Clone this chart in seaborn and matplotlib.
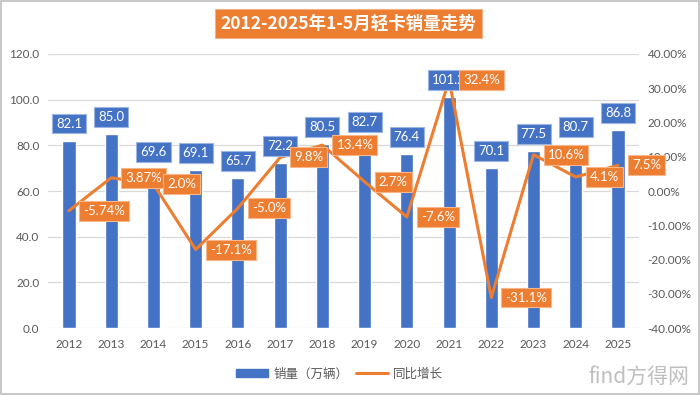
import matplotlib
matplotlib.use("Agg")
import matplotlib.pyplot as plt
import matplotlib.patches as mpatches
from matplotlib.lines import Line2D
from matplotlib.ticker import FuncFormatter, FixedLocator
import numpy as np
import pandas as pd
import seaborn as sns

years = ["2012", "2013", "2014", "2015", "2016", "2017", "2018",
         "2019", "2020", "2021", "2022", "2023", "2024", "2025"]
sales = [82.1, 85.0, 69.6, 69.1, 65.7, 72.2, 80.5, 82.7, 76.4, 101.2, 70.1, 77.5, 80.7, 86.8]
growth = [-5.74, 3.87, 2.0, -17.1, -5.0, 9.8, 13.4, 2.7, -7.6, 32.4, -31.1, 10.6, 4.1, 7.5]
growth_labels = ["-5.74%", "3.87%", "2.0%", "-17.1%", "-5.0%", "9.8%", "13.4%",
                 "2.7%", "-7.6%", "32.4%", "-31.1%", "10.6%", "4.1%", "7.5%"]
sales_labels = ["82.1", "85.0", "69.6", "69.1", "65.7", "72.2", "80.5",
                "82.7", "76.4", "101.2", "70.1", "77.5", "80.7", "86.8"]
title = "2012-2025年1-5月轻卡销量走势"
legend_bar = "销量（万辆）"
legend_line = "同比增长"

BLUE = "#4472C4"
ORANGE = "#ED7D31"
GREY = "#595959"

sns.set_style("white")
plt.rcParams["font.family"] = ["Lato", "Noto Sans CJK SC", "DejaVu Sans"]

df = pd.DataFrame({"year": years, "sales": sales, "growth": growth,
                   "pos": np.arange(len(years))})

fig = plt.figure(figsize=(7, 3.95), dpi=100)
ax = fig.add_axes([0.0684, 0.1696, 0.8446, 0.6937])

sns.barplot(data=df, x="year", y="sales", color=BLUE, saturation=1,
            width=0.31, ax=ax, zorder=2)
ax.set_xlim(-0.5, len(years) - 0.5)
ax.set_ylim(0, 120)
ax.yaxis.set_major_locator(FixedLocator([0, 20, 40, 60, 80, 100, 120]))
ax.yaxis.set_major_formatter(FuncFormatter(lambda v, p: f"{v:.1f}"))
ax.grid(axis="y", color="#D9D9D9", lw=0.9, zorder=0)
ax.set_axisbelow(True)
ax.set_xlabel("")
ax.set_ylabel("")
for s in ax.spines.values():
    s.set_visible(False)
ax.tick_params(axis="both", length=0, labelsize=8.5, labelcolor=GREY)
ax.tick_params(axis="x", pad=8)
ax.tick_params(axis="y", pad=6)

ax2 = ax.twinx()
sns.lineplot(data=df, x="pos", y="growth", color=ORANGE, lw=2.2, ax=ax2,
             zorder=3)
ax2.set_ylim(-40, 40)
ax2.yaxis.set_major_locator(FixedLocator(list(range(-40, 41, 10))))
ax2.yaxis.set_major_formatter(FuncFormatter(lambda v, p: f"{v:.2f}%"))
ax2.set_xlim(-0.5, len(years) - 0.5)
ax2.set_ylabel("")
ax2.set_xlabel("")
for s in ax2.spines.values():
    s.set_visible(False)
ax2.tick_params(axis="y", length=0, labelsize=8.5, labelcolor=GREY, pad=6)

# bar labels
for i, (v, t) in enumerate(zip(sales, sales_labels)):
    ax2.annotate(t, xy=(i, v), xycoords=ax.transData,
                 xytext=(0, 17), textcoords="offset pixels",
                 ha="center", va="center", fontsize=9.5, color="white",
                 bbox=dict(boxstyle="square,pad=0.3", fc=BLUE,
                           ec="#9DB5E3", lw=0.8), zorder=5)
# growth labels
for i, (v, t) in enumerate(zip(growth, growth_labels)):
    ax2.annotate(t, xy=(i, v), xycoords=ax2.transData,
                 xytext=(14, 0), textcoords="offset pixels",
                 ha="left", va="center", fontsize=9.5, color="white",
                 bbox=dict(boxstyle="square,pad=0.3", fc=ORANGE,
                           ec="#F6B68A", lw=0.8), zorder=6)

# title
fig.text(0.498, 0.94, title, ha="center", va="center", fontsize=12.6,
         fontweight="bold", color="white",
         family=["Noto Sans CJK SC", "DejaVu Sans"],
         bbox=dict(boxstyle="square,pad=0.32", fc=ORANGE, ec="#F4B183", lw=0.8))

# legend
handles = [mpatches.Patch(color=BLUE), Line2D([0], [0], color=ORANGE, lw=2.2)]
leg = fig.legend(handles, [legend_bar, legend_line], loc="center",
                 bbox_to_anchor=(0.485, 0.053), ncol=2, frameon=False,
                 handlelength=2.6, handleheight=0.6,
                 columnspacing=0.6, handletextpad=0.4,
                 prop={"family": ["Noto Sans CJK SC", "DejaVu Sans"], "size": 9})
for txt in leg.get_texts():
    txt.set_color(GREY)

# watermark
fig.text(0.985, 0.045, "find方得网", ha="right", va="center", fontsize=15,
         color="#BFBFBF", family=["Noto Sans CJK SC", "DejaVu Sans"])

# chart border
fig.patches.append(mpatches.Rectangle((0.002, 0.003), 0.996, 0.994,
                                      transform=fig.transFigure, fill=False,
                                      ec="#BFBFBF", lw=1.2))

fig.savefig("out.png", dpi=100)
